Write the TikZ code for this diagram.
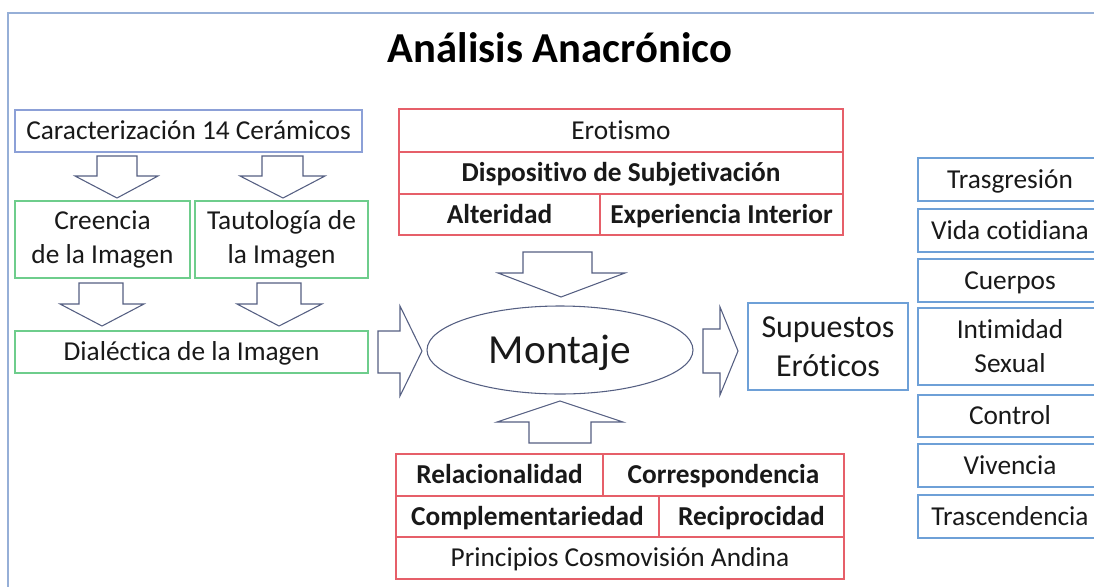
\documentclass[tikz,border=0pt]{standalone}
\usepackage{fontspec}
\setmainfont{Carlito}[Ligatures=NoCommon]
\usetikzlibrary{shapes.geometric}

\definecolor{marco}{RGB}{150,175,215}
\definecolor{azulcaja}{RGB}{110,160,215}
\definecolor{lilacaja}{RGB}{140,160,215}
\definecolor{verdecaja}{RGB}{110,205,140}
\definecolor{rojocaja}{RGB}{230,95,105}
\definecolor{flecha}{RGB}{85,95,130}
\definecolor{tinta}{RGB}{25,25,25}

\tikzset{
  caja/.style={draw, line width=0.9pt, inner sep=0pt, align=center, text=tinta,
    font=\fontsize{20.5}{25.5}\selectfont},
  una/.style={text height=16pt, text depth=3pt},
  azul/.style={caja, draw=azulcaja},
  verde/.style={caja, draw=verdecaja},
  rojo/.style={caja, draw=rojocaja, una},
  negrita/.style={font=\fontsize{20.5}{25.5}\selectfont\bfseries},
  tam/.style 2 args={minimum width=#1*0.75pt, minimum height=#2*0.75pt},
  bloque/.style={draw=flecha, line width=0.8pt, fill=white, line join=miter},
}

\begin{document}
\begin{tikzpicture}[x=0.75pt,y=-0.75pt]
    \useasboundingbox (0,0) rectangle (1094,586);
    \clip (0,0) rectangle (1094,586);

    % marco exterior
    \draw[marco, line width=0.9pt] (8,600) |- (1110,13);

    % titulo
    \node[text=black, font=\fontsize{32}{36}\selectfont\bfseries] (titulo) at (560,48) {Análisis Anacrónico};

    % columna izquierda
    \node[caja, una, draw=lilacaja, tam={347}{42}] (car) at (188.5,131) {Caracterización 14 Cerámicos};
    \node[verde, tam={175}{77}] (cre) at (102.5,239.5) {Creencia\\de la Imagen};
    \node[verde, tam={173}{77}] (tau) at (281.5,239.5) {Tautología de\\la Imagen};
    \node[verde, una, tam={353}{42}] (dia) at (191.5,352) {Dialéctica de la Imagen};

    % flechas de bloque izquierda
    \draw[bloque] (97,156) -- (137,156) -- (137,176) -- (158,176) -- (117,198) -- (75,176) -- (97,176) -- cycle;
    \draw[bloque] (262,156) -- (303,156) -- (303,176) -- (325,176) -- (283,198) -- (240,176) -- (262,176) -- cycle;
    \draw[bloque] (79,283) -- (123,283) -- (123,304) -- (144,304) -- (102,326) -- (60,304) -- (79,304) -- cycle;
    \draw[bloque] (257,283) -- (301,283) -- (301,304) -- (322,304) -- (279,326) -- (237,304) -- (257,304) -- cycle;

    % bloque erotismo
    \node[rojo, tam={444}{43}] (ero) at (621,130.5) {Erotismo};
    \node[rojo, negrita, tam={444}{42}] (dis) at (621,173) {Dispositivo de Subjetivación};
    \node[rojo, negrita, tam={201}{41}] (alt) at (499.5,214.5) {Alteridad};
    \node[rojo, negrita, tam={243}{41}] (exp) at (721.5,214.5) {Experiencia Interior};

    % montaje
    \node[draw=flecha, line width=0.8pt, ellipse, inner sep=0pt, minimum width=266*0.75pt,
      minimum height=88*0.75pt, text=tinta, font=\fontsize{31}{35}\selectfont,
      text height=24pt, text depth=4pt] (mon) at (560,350) {Montaje};

    % flechas hacia y desde montaje
    \draw[bloque] (378,331) -- (400,331) -- (400,306) -- (422,351) -- (400,396) -- (400,373) -- (378,373) -- cycle;
    \draw[bloque] (703,329) -- (720,329) -- (720,307) -- (738,351) -- (720,395) -- (720,373) -- (703,373) -- cycle;
    \draw[bloque] (523,252) -- (592,252) -- (592,273) -- (625,273) -- (561,297) -- (498,273) -- (523,273) -- cycle;
    \draw[bloque] (529,443) -- (591,443) -- (591,422) -- (623,422) -- (560,401) -- (497,422) -- (529,422) -- cycle;

    % bloque cosmovision
    \node[rojo, negrita, tam={207}{42}] (rel) at (499.5,475) {Relacionalidad};
    \node[rojo, negrita, tam={241}{42}] (cor) at (723.5,475) {Correspondencia};
    \node[rojo, negrita, tam={263}{41}] (com) at (527.5,516.5) {Complementariedad};
    \node[rojo, negrita, tam={185}{41}] (rec) at (751.5,516.5) {Reciprocidad};
    \node[rojo, tam={448}{42}] (pri) at (620,558) {Principios Cosmovisión Andina};

    % supuestos eroticos
    \node[azul, tam={160}{87}, font=\fontsize{24}{29}\selectfont] (sup) at (828,346.5) {Supuestos\\Eróticos};

    % columna derecha
    \node[azul, una, tam={184}{43}] (tra) at (1010,179.5) {Trasgresión};
    \node[azul, una, tam={184}{43}] (vid) at (1010,230.5) {Vida cotidiana};
    \node[azul, una, tam={184}{43}] (cue) at (1010,280.5) {Cuerpos};
    \node[azul, tam={184}{77}] (int) at (1010,346.5) {Intimidad\\Sexual};
    \node[azul, una, tam={184}{42}] (con) at (1010,416) {Control};
    \node[azul, una, tam={184}{43}] (viv) at (1010,465.5) {Vivencia};
    \node[azul, una, tam={184}{43}] (trc) at (1010,516.5) {Trascendencia};
\end{tikzpicture}
\end{document}
